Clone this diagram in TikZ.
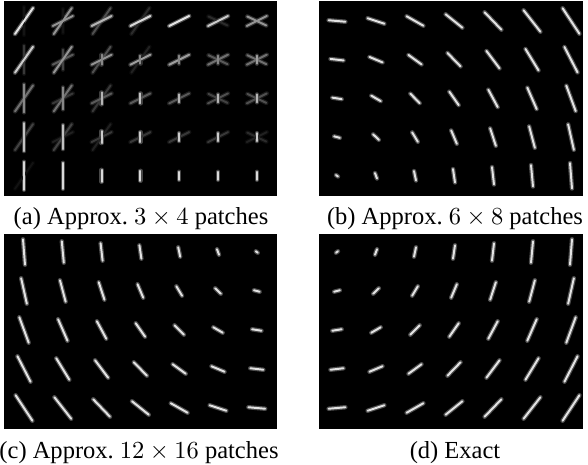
\documentclass[tikz,border=0pt]{standalone}
\usepackage{fontspec}
\setmainfont{Liberation Serif}
\usetikzlibrary{backgrounds}

\tikzset{
  glow/.style={line width=1.8pt, line cap=round},
  core/.style={line width=0.8pt, line cap=round},
}
% one filter response: centre, extent (dx,dy) in px, brightness 0..100
\newcommand{\streak}[5]{%
  \pgfmathtruncatemacro{\glowpc}{0.3*#5}%
  \pgfmathtruncatemacro{\corepc}{0.9*#5}%
  \begin{pgfonlayer}{background}
    \draw[glow, color=white!\glowpc!black] (#1,#2) ++({-0.5*(#3)},{0.5*(#4)}) -- ++({#3},{-(#4)});
  \end{pgfonlayer}
  \draw[core, color=white!\corepc!black] (#1,#2) ++({-0.5*(#3)},{0.5*(#4)}) -- ++({#3},{-(#4)});
}

\begin{document}
\begin{tikzpicture}[x=0.408pt, y=-0.408pt]
  \useasboundingbox (0,0) rectangle (588,465);
  \begin{pgfonlayer}{background}
    \fill[black] (4,1) rectangle (277,196);
    \fill[black] (319,1) rectangle (583,196);
    \fill[black] (4,234) rectangle (277,429);
    \fill[black] (319,234) rectangle (583,429);
  \end{pgfonlayer}

  % (a) few patches: blended responses
  \foreach \c/\r/\dx/\dy/\lv in {
      0/0/0/28/10, 0/0/18/26/100,
      1/0/0/24/10, 1/0/18/26/65, 1/0/20/10/65,
      2/0/18/26/35, 2/0/20/10/80,
      3/0/18/26/20, 3/0/20/10/95,
      4/0/20/10/100,
      5/0/19/-9/20, 5/0/20/10/90,
      6/0/19/-9/65, 6/0/20/10/65,
      0/1/0/28/25, 0/1/18/26/90,
      1/1/0/20/30, 1/1/20/10/40, 1/1/18/26/65,
      2/1/18/26/35, 2/1/20/10/65, 2/1/0/10/60,
      3/1/18/26/15, 3/1/20/10/70, 3/1/0/8/60,
      4/1/20/10/70, 4/1/0/8/60,
      5/1/19/-9/40, 5/1/20/10/50, 5/1/0/8/60,
      6/1/19/-9/50, 6/1/20/10/50, 6/1/0/8/70,
      0/2/18/26/50, 0/2/0/28/60,
      1/2/20/10/25, 1/2/18/26/50, 1/2/0/22/60,
      2/2/18/26/25, 2/2/20/10/40, 2/2/0/12/80,
      3/2/20/10/40, 3/2/0/10/85,
      4/2/20/10/40, 4/2/0/8/80,
      5/2/19/-9/30, 5/2/20/10/35, 5/2/0/8/80,
      6/2/19/-9/35, 6/2/20/10/35, 6/2/0/8/80,
      0/3/18/26/30, 0/3/0/28/85,
      1/3/20/10/15, 1/3/18/26/30, 1/3/0/24/85,
      2/3/18/26/15, 2/3/20/10/25, 2/3/0/12/90,
      3/3/20/10/25, 3/3/0/10/90,
      4/3/20/10/25, 4/3/0/8/90,
      5/3/20/10/25, 5/3/0/8/90,
      6/3/19/-9/20, 6/3/20/10/15, 6/3/0/8/90,
      0/4/18/26/8, 0/4/0/28/95,
      1/4/0/26/95, 2/4/0/12/95, 3/4/0/10/95,
      4/4/0/8/95, 5/4/0/8/95, 6/4/0/8/95}
    {\streak{24+38.8*\c}{21+38.7*\r}{\dx}{\dy}{\lv}}

  % (b)
  \foreach \r in {0,...,4}{
    \foreach \c in {0,...,6}{
      \pgfmathsetmacro{\dx}{2+3.7*(4-\r)}
      \pgfmathsetmacro{\dy}{-(1.5+4*\c)}
      \streak{337+39*\c}{21+38.7*\r}{\dx}{\dy}{100}
    }
  }

  % (c)
  \foreach \r in {0,...,4}{
    \foreach \c in {0,...,6}{
      \pgfmathsetmacro{\dx}{-(2+3.7*\r)}
      \pgfmathsetmacro{\dy}{1.5+4*(6-\c)}
      \streak{24+38.8*\c}{252+39*\r}{\dx}{\dy}{100}
    }
  }

  % (d) exact
  \foreach \r in {0,...,4}{
    \foreach \c in {0,...,6}{
      \pgfmathsetmacro{\dx}{2+3.7*\r}
      \pgfmathsetmacro{\dy}{1.5+4*\c}
      \streak{337+39*\c}{252+39*\r}{\dx}{\dy}{100}
    }
  }

  \node (capa) [anchor=base] at (141,225) {(a) Approx.\ $3\times4$ patches};
  \node (capb) [anchor=base] at (455,225) {(b) Approx.\ $6\times8$ patches};
  \node (capc) [anchor=base] at (139,459) {(c) Approx.\ $12\times16$ patches};
  \node (capd) [anchor=base] at (455,459) {(d) Exact};
\end{tikzpicture}
\end{document}
